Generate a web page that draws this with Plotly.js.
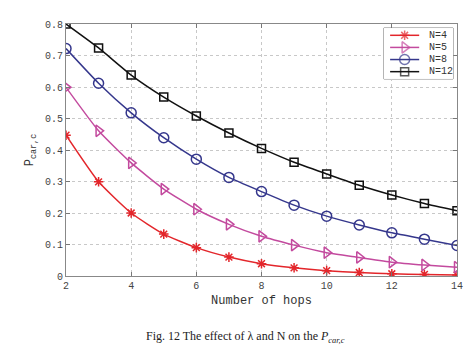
<!DOCTYPE html>
<html>
<head>
<meta charset="utf-8">
<script src="https://cdn.plot.ly/plotly-3.0.1.min.js"></script>
<style>html,body{margin:0;padding:0;background:#fff;}#chart{width:474px;height:346px;}</style>
</head>
<body>
<div id="chart"></div>
<script>
var hops = [2,3,4,5,6,7,8,9,10,11,12,13,14];
var n4  = [0.447,0.299,0.200,0.133,0.090,0.060,0.039,0.026,0.017,0.011,0.007,0.005,0.003];
var n5  = [0.599,0.461,0.359,0.276,0.212,0.164,0.126,0.098,0.074,0.059,0.044,0.035,0.028];
var n8  = [0.722,0.612,0.518,0.439,0.371,0.313,0.268,0.225,0.190,0.162,0.137,0.117,0.097];
var n12 = [0.800,0.724,0.638,0.568,0.508,0.454,0.405,0.361,0.324,0.288,0.257,0.230,0.207];
var seriesNames = ['N=4','N=5','N=8','N=12'];
var xTicks = [2,4,6,8,10,12,14];
var yTicks = [0,0.1,0.2,0.3,0.4,0.5,0.6,0.7,0.8];
var yTickText = ['0','0.1','0.2','0.3','0.4','0.5','0.6','0.7','0.8'];

var mono = 'Liberation Mono, Courier New, monospace';
var styles = [
  {color:'#e3262b', sym:'asterisk-open', size:8},
  {color:'#c34a9e', sym:'triangle-right-open', size:10},
  {color:'#35378c', sym:'circle-open', size:10},
  {color:'#111111', sym:'square-open', size:8}
];
var series = [n4, n5, n8, n12];
var data = [];
series.forEach(function(y, i){
  var s = styles[i];
  data.push({x: hops, y: y, name: seriesNames[i], type:'scatter', mode:'lines+markers', showlegend:false,
    line:{color:s.color, width:1.5, shape:'spline', smoothing:0.5},
    marker:{symbol:s.sym, size:s.size, color:s.color, line:{color:s.color, width:1.5}}});
});
// manual legend (legend-box coordinates: 0..1 across, row index down)
var annotations = [];
seriesNames.forEach(function(name, i){
  var s = styles[i];
  var row = i + 0.5;
  data.push({x:[0.09,0.30,0.51], y:[row,row,row], xaxis:'x2', yaxis:'y2', type:'scatter', mode:'lines+markers',
    showlegend:false, hoverinfo:'skip',
    line:{color:s.color, width:1.5},
    marker:{symbol:s.sym, size:[0, s.size, 0], color:s.color, line:{color:s.color, width:1.5}}});
  annotations.push({xref:'x2', yref:'y2', x:0.62, y:row, xanchor:'left', yanchor:'middle', showarrow:false,
    text:name, font:{family:mono, size:10, color:'#333'}});
});
annotations.push({xref:'paper', yref:'paper', x:0.46, y:-0.242, xanchor:'center', yanchor:'middle',
  showarrow:false, text:'Fig. 12 The effect of λ and N on the <i>P<sub>car,c</sub></i>',
  font:{family:'Liberation Serif, Times New Roman, serif', size:12, color:'#222'}});

var legX0 = 0.813, legX1 = 0.990, legY0 = 0.782, legY1 = 0.984;
var layout = {
  width:474, height:346,
  margin:{l:66, r:17, t:24, b:70},
  paper_bgcolor:'#fff', plot_bgcolor:'#fff',
  showlegend:false,
  xaxis:{range:[2,14], tickvals:xTicks, ticks:'inside', ticklen:4, tickcolor:'#777',
    showline:true, linecolor:'#888', linewidth:1, mirror:'ticks',
    showgrid:true, gridcolor:'#c8c8c8', griddash:'dot', gridwidth:1, zeroline:false,
    tickfont:{family:mono, size:10, color:'#444'},
    title:{text:'Number of hops', font:{family:mono, size:12, color:'#333'}, standoff:4}},
  yaxis:{range:[0,0.8], tickvals:yTicks, ticktext:yTickText, ticks:'inside', ticklen:4, tickcolor:'#777',
    showline:true, linecolor:'#888', linewidth:1, mirror:'ticks',
    showgrid:true, gridcolor:'#c8c8c8', griddash:'dot', gridwidth:1, zeroline:false,
    tickfont:{family:mono, size:10, color:'#444'},
    title:{text:'P<sub>car,c</sub>', font:{family:mono, size:12, color:'#333'}, standoff:8}},
  xaxis2:{domain:[legX0, legX1], range:[0,1], anchor:'y2', visible:false, fixedrange:true},
  yaxis2:{domain:[legY0, legY1], range:[4.1,-0.1], anchor:'x2', visible:false, fixedrange:true},
  shapes:[{type:'rect', xref:'paper', yref:'paper', x0:legX0, x1:legX1, y0:legY0, y1:legY1,
    fillcolor:'#fff', line:{color:'#777', width:1}, layer:'below'}],
  annotations: annotations
};
Plotly.newPlot('chart', data, layout, {displayModeBar:false, staticPlot:true});
</script>
</body>
</html>
